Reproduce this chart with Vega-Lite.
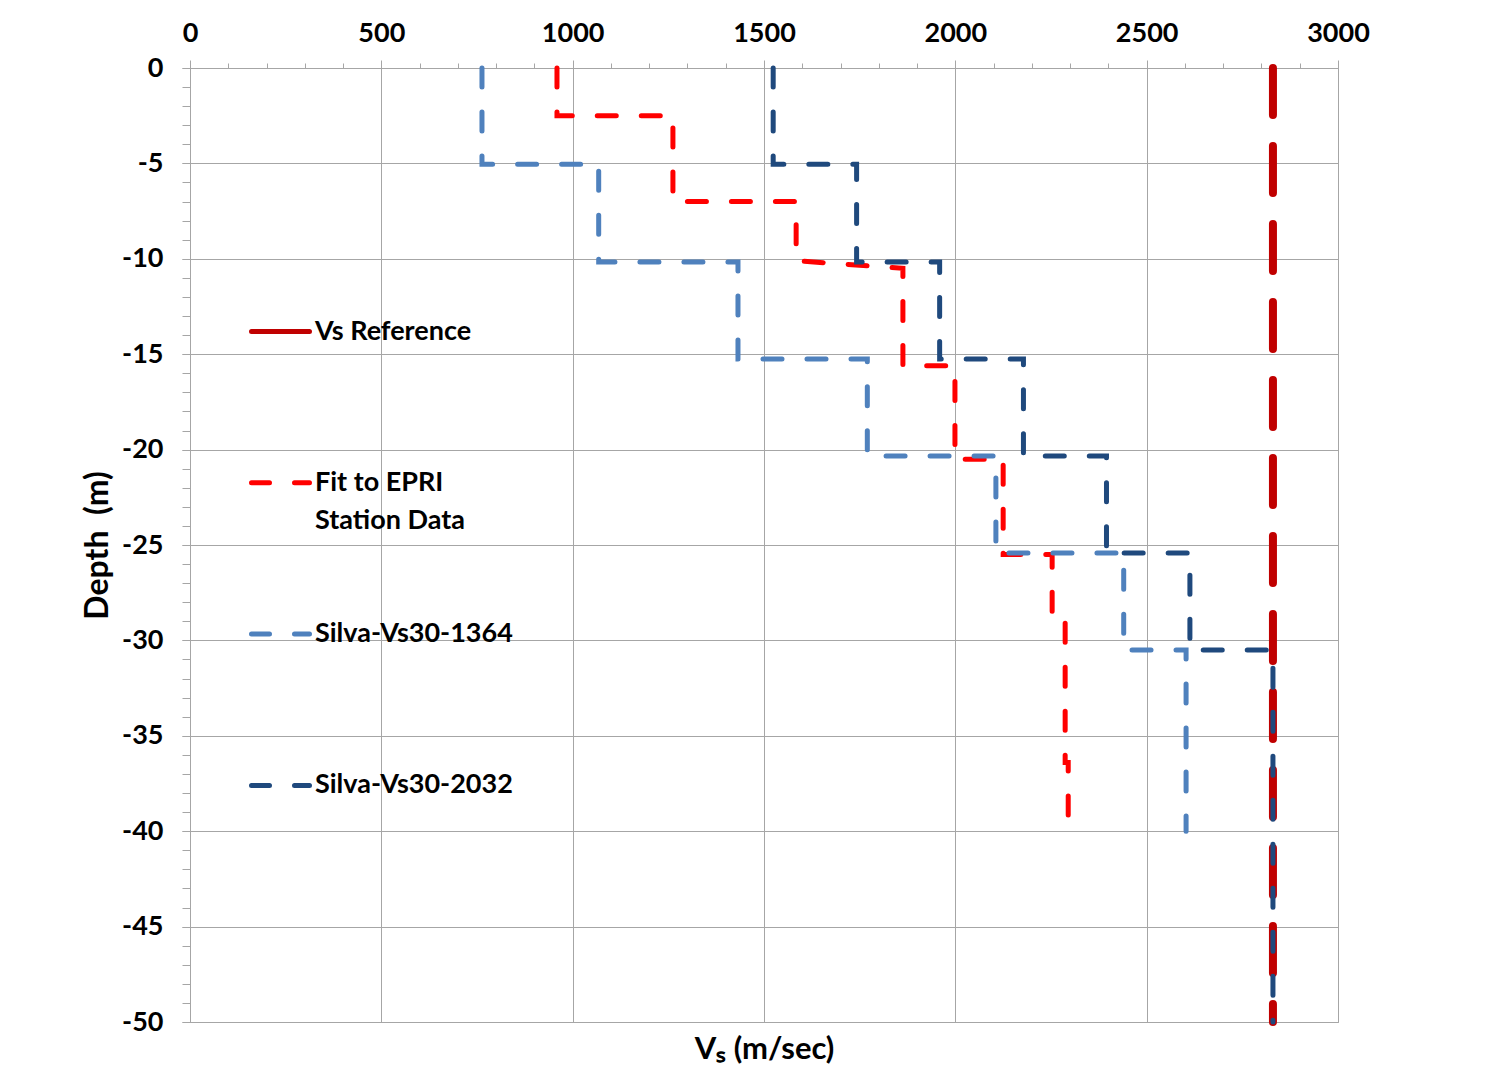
{
  "$schema": "https://vega.github.io/schema/vega-lite/v6.json",
  "width": 1148,
  "height": 954,
  "autosize": "none",
  "padding": {"left": 190, "top": 68, "right": 153, "bottom": 67},
  "background": "white",
  "config": {
    "font": "Lato",
    "view": {"stroke": "#A6A6A6", "strokeWidth": 1},
    "axis": {"labelFont": "Lato", "titleFont": "Lato", "labelColor": "black", "titleColor": "black", "gridColor": "#A6A6A6", "tickColor": "#A6A6A6", "domainColor": "#A6A6A6"}
  },
  "data": {
    "values": [
      {"s": "Vs Reference", "i": 1, "v": 2830, "d": 0},
      {"s": "Vs Reference", "i": 2, "v": 2830, "d": -50},
      {"s": "Fit to EPRI Station Data", "i": 1, "v": 959, "d": 0},
      {"s": "Fit to EPRI Station Data", "i": 2, "v": 959, "d": -2.5},
      {"s": "Fit to EPRI Station Data", "i": 3, "v": 1262, "d": -2.5},
      {"s": "Fit to EPRI Station Data", "i": 4, "v": 1262, "d": -7.0},
      {"s": "Fit to EPRI Station Data", "i": 5, "v": 1584, "d": -7.0},
      {"s": "Fit to EPRI Station Data", "i": 6, "v": 1584, "d": -10.1},
      {"s": "Fit to EPRI Station Data", "i": 7, "v": 1863, "d": -10.5},
      {"s": "Fit to EPRI Station Data", "i": 8, "v": 1863, "d": -15.6},
      {"s": "Fit to EPRI Station Data", "i": 9, "v": 1999, "d": -15.6},
      {"s": "Fit to EPRI Station Data", "i": 10, "v": 1999, "d": -20.5},
      {"s": "Fit to EPRI Station Data", "i": 11, "v": 2125, "d": -20.5},
      {"s": "Fit to EPRI Station Data", "i": 12, "v": 2125, "d": -25.5},
      {"s": "Fit to EPRI Station Data", "i": 13, "v": 2253, "d": -25.5},
      {"s": "Fit to EPRI Station Data", "i": 14, "v": 2253, "d": -28.6},
      {"s": "Fit to EPRI Station Data", "i": 15, "v": 2287, "d": -28.6},
      {"s": "Fit to EPRI Station Data", "i": 16, "v": 2287, "d": -36.4},
      {"s": "Fit to EPRI Station Data", "i": 17, "v": 2295, "d": -36.4},
      {"s": "Fit to EPRI Station Data", "i": 18, "v": 2295, "d": -39.6},
      {"s": "Silva-Vs30-1364", "i": 1, "v": 763, "d": 0},
      {"s": "Silva-Vs30-1364", "i": 2, "v": 763, "d": -5.05},
      {"s": "Silva-Vs30-1364", "i": 3, "v": 1068, "d": -5.05},
      {"s": "Silva-Vs30-1364", "i": 4, "v": 1068, "d": -10.17},
      {"s": "Silva-Vs30-1364", "i": 5, "v": 1432, "d": -10.17},
      {"s": "Silva-Vs30-1364", "i": 6, "v": 1432, "d": -15.25},
      {"s": "Silva-Vs30-1364", "i": 7, "v": 1770, "d": -15.25},
      {"s": "Silva-Vs30-1364", "i": 8, "v": 1770, "d": -20.33},
      {"s": "Silva-Vs30-1364", "i": 9, "v": 2106, "d": -20.33},
      {"s": "Silva-Vs30-1364", "i": 10, "v": 2106, "d": -25.42},
      {"s": "Silva-Vs30-1364", "i": 11, "v": 2440, "d": -25.42},
      {"s": "Silva-Vs30-1364", "i": 12, "v": 2440, "d": -30.5},
      {"s": "Silva-Vs30-1364", "i": 13, "v": 2603, "d": -30.5},
      {"s": "Silva-Vs30-1364", "i": 14, "v": 2603, "d": -40},
      {"s": "Silva-Vs30-2032", "i": 1, "v": 1524, "d": 0},
      {"s": "Silva-Vs30-2032", "i": 2, "v": 1524, "d": -5.05},
      {"s": "Silva-Vs30-2032", "i": 3, "v": 1742, "d": -5.05},
      {"s": "Silva-Vs30-2032", "i": 4, "v": 1742, "d": -10.17},
      {"s": "Silva-Vs30-2032", "i": 5, "v": 1959, "d": -10.17},
      {"s": "Silva-Vs30-2032", "i": 6, "v": 1959, "d": -15.25},
      {"s": "Silva-Vs30-2032", "i": 7, "v": 2178, "d": -15.25},
      {"s": "Silva-Vs30-2032", "i": 8, "v": 2178, "d": -20.33},
      {"s": "Silva-Vs30-2032", "i": 9, "v": 2395, "d": -20.33},
      {"s": "Silva-Vs30-2032", "i": 10, "v": 2395, "d": -25.42},
      {"s": "Silva-Vs30-2032", "i": 11, "v": 2613, "d": -25.42},
      {"s": "Silva-Vs30-2032", "i": 12, "v": 2613, "d": -30.5},
      {"s": "Silva-Vs30-2032", "i": 13, "v": 2830, "d": -30.5},
      {"s": "Silva-Vs30-2032", "i": 14, "v": 2830, "d": -50}
    ]
  },
  "layer": [
    {
      "transform": [{"filter": "datum.s == 'Vs Reference'"}],
      "mark": {"type": "line", "strokeCap": "round", "strokeDash": [47, 31], "strokeWidth": 8},
      "encoding": {
        "x": {
          "field": "v", "type": "quantitative",
          "scale": {"domain": [0, 3000], "nice": false, "zero": false},
          "axis": {"orient": "top", "values": [0, 500, 1000, 1500, 2000, 2500, 3000], "grid": true, "title": null, "labelExpr": "'' + datum.value", "labelFontSize": 27, "labelFontWeight": "bold", "tickSize": 8, "labelPadding": 13, "labelFlush": false}
        },
        "y": {
          "field": "d", "type": "quantitative",
          "scale": {"domain": [-50, 0], "nice": false, "zero": false},
          "axis": {"orient": "left", "values": [-50, -45, -40, -35, -30, -25, -20, -15, -10, -5, 0], "grid": true, "labelExpr": "'' + datum.value", "labelFontSize": 27, "labelFontWeight": "bold", "tickSize": 8, "labelPadding": 19, "labelFlush": false, "title": "Depth\u00a0 (m)", "titleFontSize": 32, "titleFontWeight": "bold", "titleAngle": -90, "titleAlign": "center", "titleBaseline": "middle", "titleX": -93, "titleY": 477}
        },
        "color": {
          "field": "s", "type": "nominal",
          "scale": {"domain": ["Vs Reference", "Fit to EPRI Station Data", "Silva-Vs30-1364", "Silva-Vs30-2032"], "range": ["#C00000", "#FF0000", "#4F81BD", "#1F497D"]},
          "legend": {
            "orient": "none", "legendX": 59, "legendY": 232, "title": null, "direction": "vertical",
            "symbolType": "stroke", "symbolSize": 3364, "symbolStrokeWidth": 5,
            "labelFontSize": 27, "labelFontWeight": "bold", "labelColor": "black", "labelFont": "Lato",
            "labelOffset": 3, "labelLimit": 500, "rowPadding": 68.3, "gridAlign": "all",
            "labelExpr": "datum.label == 'Fit to EPRI Station Data' ? ['Fit to EPRI', 'Station Data'] : datum.label",
            "encode": {
              "symbols": {"update": {"strokeDash": {"signal": "datum.value == 'Vs Reference' ? [1, 0] : [18, 25]"}, "strokeCap": {"value": "round"}, "strokeWidth": {"value": 5}}},
              "labels": {"update": {"lineHeight": {"value": 38}}}
            }
          }
        },
        "order": {"field": "i", "type": "quantitative"}
      }
    },
    {
      "transform": [{"filter": "datum.s != 'Vs Reference'"}],
      "mark": {"type": "line", "strokeCap": "round", "strokeDash": [19, 25], "strokeWidth": 5},
      "encoding": {
        "x": {"field": "v", "type": "quantitative", "axis": null},
        "y": {"field": "d", "type": "quantitative", "axis": null},
        "color": {"field": "s", "type": "nominal"},
        "order": {"field": "i", "type": "quantitative"}
      }
    },
    {
      "mark": {"type": "line", "opacity": 0},
      "encoding": {
        "x": {
          "field": "v", "type": "quantitative",
          "axis": {"orient": "top", "values": [0, 100, 200, 300, 400, 500, 600, 700, 800, 900, 1000, 1100, 1200, 1300, 1400, 1500, 1600, 1700, 1800, 1900, 2000, 2100, 2200, 2300, 2400, 2500, 2600, 2700, 2800, 2900, 3000], "labels": false, "grid": false, "domain": false, "tickSize": 5, "title": null}
        },
        "y": {
          "field": "d", "type": "quantitative",
          "axis": {"orient": "left", "values": [-50, -49, -48, -47, -46, -45, -44, -43, -42, -41, -40, -39, -38, -37, -36, -35, -34, -33, -32, -31, -30, -29, -28, -27, -26, -25, -24, -23, -22, -21, -20, -19, -18, -17, -16, -15, -14, -13, -12, -11, -10, -9, -8, -7, -6, -5, -4, -3, -2, -1, 0], "labels": false, "grid": false, "domain": false, "tickSize": 8, "title": null}
        },
        "order": {"field": "i", "type": "quantitative"}
      }
    },
    {
      "mark": {"type": "line", "opacity": 0},
      "encoding": {
        "x": {
          "field": "v", "type": "quantitative",
          "axis": {"orient": "bottom", "labels": false, "ticks": false, "grid": false, "domain": false, "title": "Vₛ (m/sec)", "titleFontSize": 31, "titleFontWeight": "bold", "titleBaseline": "middle", "titleY": 27}
        },
        "y": {"field": "d", "type": "quantitative", "axis": null},
        "order": {"field": "i", "type": "quantitative"}
      }
    }
  ],
  "resolve": {"axis": {"x": "independent", "y": "independent"}}
}
